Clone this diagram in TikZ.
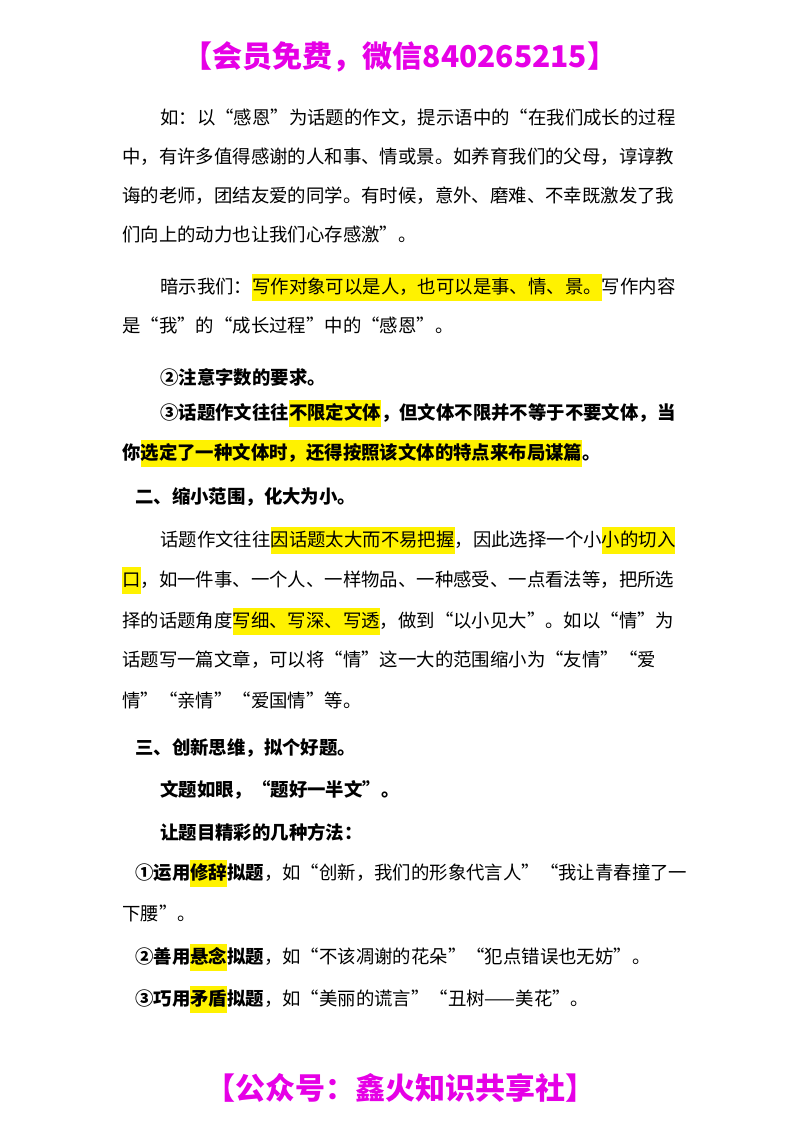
\documentclass[tikz,border=0pt]{standalone}
\usepackage{fontspec}
\setmainfont{Noto Sans CJK SC}
\XeTeXlinebreaklocale "zh"
\XeTeXlinebreakskip=0pt plus 3pt minus 1pt
\definecolor{mag}{RGB}{230,0,230}
\newcommand\hlt[1]{{\setlength\fboxsep{0pt}\colorbox{yellow}{\rule[-7pt]{0pt}{27pt}#1}}}
\newcommand\jl[2]{\makebox[#1pt][s]{#2}}
\tikzset{ln/.style={anchor=west,inner sep=0pt,font=\fontsize{18.4}{24}\selectfont},
 bl/.style={ln,font=\fontsize{18.4}{24}\selectfont\bfseries},
 hd/.style={inner sep=0pt,text=mag,font=\fontsize{30}{36}\selectfont\bfseries}}
\begin{document}
\begin{tikzpicture}[x=1pt,y=-1pt]
\useasboundingbox[fill=white] (0,0) rectangle (800,1132);
\node[hd] (h) at (400,57) {【会员免费，微信840265215】};
\node[ln] (l1) at (160,118) {\jl{520}{如：以“感恩”为话题的作文，提示语中的“在我们成长的过程}};
\node[ln] (l2) at (122,157) {\jl{558}{中，有许多值得感谢的人和事、情或景。如养育我们的父母，谆谆教}};
\node[ln] (l3) at (122,196) {\jl{558}{诲的老师，团结友爱的同学。有时候，意外、磨难、不幸既激发了我}};
\node[ln] (l4) at (122,235) {们向上的动力也让我们心存感激”。};
\node[ln] (l5) at (160,287) {\jl{520}{暗示我们：\hlt{写作对象可以是人，也可以是事、情、景。}写作内容}};
\node[ln] (l6) at (122,326) {是“我”的“成长过程”中的“感恩”。};
\node[bl] (l7) at (160,377) {②注意字数的要求。};
\node[bl] (l8) at (160,413) {\jl{520}{③话题作文往往\hlt{不限定文体}，但文体不限并不等于不要文体，当}};
\node[bl] (l9) at (122,453) {你\hlt{选定了一种文体时，还得按照该文体的特点来布局谋篇}。};
\node[bl] (l10) at (135,497) {二、缩小范围，化大为小。};
\node[ln] (l11) at (160,540) {\jl{520}{话题作文往往\hlt{因话题太大而不易把握}，因此选择一个小\hlt{小的切入}}};
\node[ln] (l12) at (122,580) {\jl{558}{\hlt{口}，如一件事、一个人、一样物品、一种感受、一点看法等，把所选}};
\node[ln] (l13) at (122,621) {\jl{558}{择的话题角度\hlt{写细、写深、写透}，做到“以小见大”。如以“情”为}};
\node[ln] (l14) at (122,660) {\jl{558}{话题写一篇文章，可以将“情”这一大的范围缩小为“友情”“爱}};
\node[ln] (l15) at (122,700) {情”“亲情”“爱国情”等。};
\node[bl] (l16) at (135,748) {三、创新思维，拟个好题。};
\node[bl] (l17) at (160,790) {文题如眼，“题好一半文”。};
\node[bl] (l18) at (160,832) {让题目精彩的几种方法：};
\node[ln] (l19) at (135,873) {\jl{545}{\textbf{①运用\hlt{修辞}拟题}，如“创新，我们的形象代言人”“我让青春撞了一}};
\node[ln] (l20) at (122,913) {下腰”。};
\node[ln] (l21) at (135,957) {\textbf{②善用\hlt{悬念}拟题}，如“不该凋谢的花朵”“犯点错误也无妨”。};
\node[ln] (l22) at (135,999) {\textbf{③巧用\hlt{矛盾}拟题}，如“美丽的谎言”“丑树——美花”。};
\node[hd] (f) at (400,1088) {【公众号：鑫火知识共享社】};
\end{tikzpicture}
\end{document}
